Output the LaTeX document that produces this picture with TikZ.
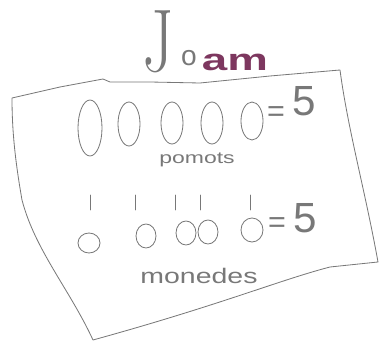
\documentclass[tikz,border=0pt]{standalone}
\usepackage{fontspec}
\setsansfont{Liberation Sans}
\usetikzlibrary{positioning}
\definecolor{pencil}{RGB}{120,120,120}
\definecolor{plum}{RGB}{125,55,95}

\begin{document}
\begin{tikzpicture}[
  x=0.03cm,y=-0.03cm,
  stroke/.style={draw=pencil, line width=0.7pt, line cap=round, line join=round},
  scrawl/.style={text=pencil, font=\sffamily, inner sep=0pt},
  count/.style={text=pencil, font=\sffamily\fontsize{36}{36}\selectfont, inner sep=0pt}
]
\useasboundingbox (0,0) rectangle (379,345);

% name on top
\node[text=pencil, font=\fontsize{76}{76}\selectfont, xscale=0.75, anchor=base, inner sep=0pt] (jname) at (158,72) {J};
\node[scrawl, font=\sffamily\fontsize{24}{24}\selectfont, anchor=base] (oname) at (189,66) {o};
\node[text=plum, font=\sffamily\bfseries\fontsize{26}{26}\selectfont, xscale=1.5, anchor=base, inner sep=0pt] (amname) at (235,71) {am};

% sheet outline
\draw[stroke] (12,98) -- (60,87) -- (103,79) -- (110,82) -- (150,82) -- (200,83) -- (270,76) -- (340,70)
  .. controls (348,130) and (365,190) .. (378,262)
  -- (330,267) .. controls (280,280) and (220,305) .. (93,340)
  .. controls (70,290) and (35,250) .. (22,200) .. controls (15,160) and (12,130) .. (12,98);

% top row: five big ovals
\draw[stroke] (90,128) ellipse (12 and 28);
\draw[stroke] (129,124) ellipse (11 and 22);
\draw[stroke] (172,123) ellipse (11 and 21);
\draw[stroke] (212,123) ellipse (11 and 21);
\draw[stroke] (252,121) ellipse (11 and 19);
\node[count, font=\sffamily\fontsize{26}{26}\selectfont] (eqtop) at (276,114) {=};
\node[count] (fivetop) at (304,101) {5};
\node[scrawl, font=\sffamily\fontsize{14}{14}\selectfont, xscale=1.4] (pomots) at (197,160) {pomots};

% tally marks
\foreach \tx in {90,135,175,200,250}
  \draw[stroke] (\tx,195) -- (\tx,210);

% bottom row: five small circles
\draw[stroke] (89,243) ellipse (11 and 10);
\draw[stroke] (146,236) ellipse (10 and 12);
\draw[stroke] (186,233) ellipse (10 and 12);
\draw[stroke] (208,232) ellipse (10 and 12);
\draw[stroke] (252,230) ellipse (11 and 12);
\node[count, font=\sffamily\fontsize{26}{26}\selectfont] (eqbot) at (277,225) {=};
\node[count] (fivebot) at (305,218) {5};
\node[scrawl, font=\sffamily\fontsize{18}{18}\selectfont, xscale=1.35] (monedes) at (199,276) {monedes};

\end{tikzpicture}
\end{document}
